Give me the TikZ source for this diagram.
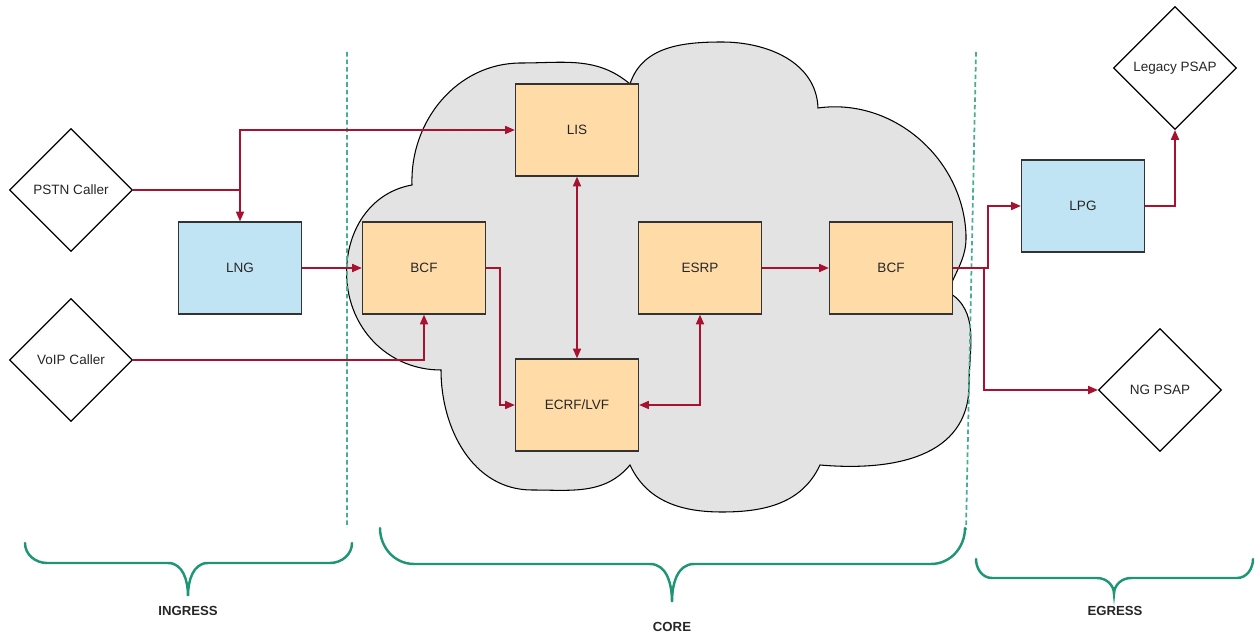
\documentclass[tikz,border=0pt]{standalone}
\usepackage{fontspec}
\setmainfont{Liberation Sans}
\usetikzlibrary{shapes.geometric,arrows.meta}

\definecolor{wirered}{RGB}{168,18,48}
\definecolor{boxorange}{RGB}{255,219,168}
\definecolor{boxblue}{RGB}{193,228,245}
\definecolor{cloudgray}{RGB}{227,227,227}
\definecolor{braceteal}{RGB}{30,150,118}
\definecolor{dashteal}{RGB}{70,175,145}

\tikzset{
  >={Triangle[length=5.5pt,width=4.6pt]},
  every node/.style={font=\fontsize{7.7}{9}\selectfont, text=black!85},
  func/.style={draw=black!80, line width=0.8pt, fill=boxorange,
    minimum width=2.46cm, minimum height=1.84cm},
  gate/.style={func, fill=boxblue},
  party/.style={draw=black, line width=0.7pt, fill=white, diamond, aspect=1,
    minimum size=2.46cm, inner sep=0pt},
  wire/.style={draw=wirered, line width=0.8pt, ->},
  zone/.style={draw=braceteal, line width=1.4pt, line cap=round},
  zonename/.style={font=\fontsize{7.5}{9}\selectfont\bfseries}
}

\begin{document}
\begin{tikzpicture}[x=0.02cm, y=-0.02cm]
  \useasboundingbox (0,0) rectangle (1255,634);

  \draw[fill=cloudgray, line width=0.6pt]
    (412,185) to[out=92,in=180] (521,63) to[out=0,in=140] (630,84)
    to[out=72,in=180] (722,42) to[out=0,in=92] (818,108)
    to[out=8,in=92] (966,235) to[out=-88,in=70] (948,292)
    to[out=-30,in=90] (969,385) to[out=-90,in=-5,looseness=1.1] (820,465)
    to[out=-115,in=0] (722,512) to[out=180,in=-65] (630,465)
    to[out=-130,in=0] (532,490) to[out=180,in=-90] (441,370)
    to[out=180,in=-85] (347,282) to[out=95,in=190] (412,185) -- cycle;

  \draw[dashteal, line width=1pt, dash pattern=on 2.6pt off 1.7pt]
    (347,52) -- (347,528) (976,52) -- (966,530);

  \node[party] (pstn) at (71,190) {PSTN Caller};
  \node[party] (voip) at (71,360) {VoIP Caller};
  \node[gate] (lng) at (240,268) {LNG};
  \node[func] (lis) at (577,130) {LIS};
  \node[func] (bcfin) at (424,268) {BCF};
  \node[func] (esrp) at (700,268) {ESRP};
  \node[func] (bcfout) at (891,268) {BCF};
  \node[func] (ecrf) at (577,405) {ECRF/LVF};
  \node[gate] (lpg) at (1083,206) {LPG};
  \node[party] (legacy) at (1175,68) {Legacy PSAP};
  \node[party] (ngpsap) at (1160,390) {NG PSAP};

  \draw[wire, -] (pstn.east) -- (pstn.east -| lng.north) coordinate (tap);
  \draw[wire] (tap) -- (lng.north);
  \draw[wire] (tap) |- (lis.west);
  \draw[wire] (lng.east) -- (bcfin.west);
  \draw[wire] (voip.east) -| (bcfin.south);
  \draw[wire] (bcfin.east) -- ++(14,0) |- (ecrf.west);
  \draw[wire, <->] (lis.south) -- (ecrf.north);
  \draw[wire, <->] (esrp.south) |- (ecrf.east);
  \draw[wire] (esrp.east) -- (bcfout.west);
  \draw[wire] (bcfout.east) -- ++(35,0) |- (lpg.west);
  \draw[wire] (bcfout.east) -- ++(31,0) |- (ngpsap.west);
  \draw[wire] (lpg.east) -| (legacy.south);

  \draw[zone] (25,543) to[out=-90,in=180] (47,563) -- (168,563)
    to[out=0,in=90] (188,596) to[out=90,in=180] (208,563) -- (330,563)
    to[out=0,in=-90] (352,543);
  \draw[zone] (380,528) to[out=-90,in=180] (414,564) -- (650,564)
    to[out=0,in=90] (672,602) to[out=90,in=180] (694,564) -- (931,564)
    to[out=0,in=-90] (965,528);
  \draw[zone] (976,559) to[out=-90,in=180] (992,578) -- (1097,578)
    to[out=0,in=90] (1114,594) to[out=90,in=180] (1131,578) -- (1237,578)
    to[out=0,in=-90] (1253,559);

  \node[zonename] (ingress) at (188,611) {INGRESS};
  \node[zonename] (core) at (672,627) {CORE};
  \node[zonename] (egress) at (1115,611) {EGRESS};
\end{tikzpicture}
\end{document}
